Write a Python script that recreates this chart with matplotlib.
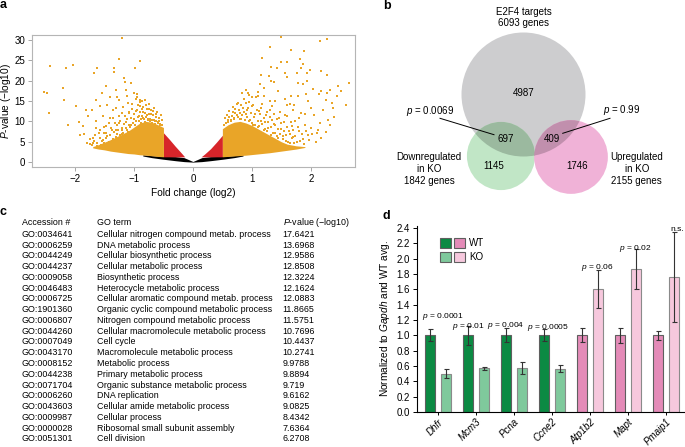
import numpy as np
import matplotlib.pyplot as plt
from matplotlib.patches import Circle, Patch
from matplotlib.legend_handler import HandlerTuple

plt.rcParams['font.family'] = ['Liberation Sans', 'DejaVu Sans']
plt.rcParams['mathtext.fontset'] = 'custom'
plt.rcParams['mathtext.rm'] = 'Liberation Sans'
plt.rcParams['mathtext.it'] = 'Liberation Sans:italic'

# ---------------- panel a : volcano (dense cores as envelopes + sparse points)
black_fc = [-0.85, -0.7, -0.5, -0.3, -0.15, 0.0, 0.15, 0.3, 0.5, 0.7, 0.85]
black_lo = [1.5, 1.1, 0.7, 0.35, 0.12, 0.0, 0.12, 0.35, 0.7, 1.1, 1.5]
black_hi = [1.8, 1.6, 1.4, 1.35, 1.1, 0.15, 1.1, 1.35, 1.4, 1.6, 1.8]

red_l_fc = [-0.5, -0.4, -0.3, -0.2, -0.14]
red_l_hi = [7.2, 5.6, 3.9, 2.3, 1.3]
red_r_fc = [0.14, 0.2, 0.3, 0.4, 0.5]
red_r_hi = [1.3, 2.0, 3.3, 4.9, 6.6]
red_lo = 1.3

core_l_fc = [-1.7, -1.6, -1.5, -1.4, -1.3, -1.2, -1.1, -1.0, -0.9, -0.8, -0.7, -0.6, -0.5]
core_l_lo = [3.5, 3.2, 3.0, 2.7, 2.5, 2.3, 2.1, 2.0, 1.8, 1.7, 1.55, 1.4, 1.3]
core_l_hi = [3.8, 4.3, 4.9, 5.5, 6.2, 6.9, 7.6, 8.6, 9.6, 10.0, 9.8, 9.2, 8.5]
core_r_fc = [0.5, 0.6, 0.7, 0.8, 0.9, 1.0, 1.1, 1.2, 1.3, 1.4, 1.5, 1.6, 1.75, 1.9]
core_r_lo = [1.3, 1.4, 1.5, 1.6, 1.7, 1.85, 2.0, 2.15, 2.3, 2.5, 2.7, 2.9, 3.2, 3.6]
core_r_hi = [8.2, 9.2, 9.8, 10.0, 9.6, 9.0, 8.2, 7.4, 6.6, 5.8, 5.0, 4.4, 4.0, 3.8]

left_fc = [-2.73, -2.43, -2.53, -2.47, -2.44, -2.21, -2.16, -2.18, -2.03, -2.12,
           -1.99, -1.94, -1.92, -1.86, -1.82, -1.67, -1.62, -1.65, -1.58, -1.47,
           -1.45, -1.34, -1.34, -1.26, -1.21, -1.17, -1.15, -1.05, -0.98, -0.89,
           -1.30, -1.28, -1.41, -1.13, -0.90, -1.55, -1.72, -1.78, -1.64, -1.53,
           -1.47, -1.36, -1.69,
           -1.55, -1.50, -1.45, -1.42, -1.38, -1.35, -1.32, -1.30, -1.28, -1.25,
           -1.22, -1.20, -1.18, -1.15, -1.13, -1.10, -1.08, -1.06, -1.04, -1.02,
           -1.00, -0.98, -0.97, -0.95, -0.93, -0.92, -0.90, -0.88, -0.87, -0.85,
           -0.84, -0.82, -0.80, -0.78, -0.77, -0.75, -0.73, -0.71, -0.70, -0.68,
           -0.66, -0.64, -0.62, -0.60, -0.58, -0.56, -1.60, -1.48, -1.40, -1.36,
           -1.25, -1.12, -1.00, -0.95, -1.45, -1.65, -1.70, -1.75, -1.62, -1.10,
           -1.05, -0.99, -0.90, -1.20, -1.30, -1.27]
left_p = [26.0, 23.7, 17.3, 17.0, 12.1, 18.1, 23.2, 15.3, 23.8, 9.0,
          13.7, 9.9, 6.7, 8.8, 12.9, 21.9, 23.2, 15.3, 13.7, 18.6,
          31.3, 23.0, 22.0, 25.3, 30.5, 20.7, 19.6, 19.3, 23.2, 24.7,
          17.8, 16.1, 16.1, 17.8, 15.3, 17.0, 12.9, 11.2, 8.4, 11.2,
          7.1, 5.5, 4.8,
          5.2, 4.6, 6.3, 4.9, 7.8, 5.6, 9.5, 4.4, 6.8, 11.2,
          5.1, 8.3, 13.5, 6.2, 9.9, 4.7, 12.0, 7.4, 14.3, 5.8,
          10.6, 8.1, 15.4, 12.7, 6.9, 11.3, 13.8, 9.6, 15.0, 10.8,
          12.4, 9.9, 14.1, 11.6, 10.3, 13.0, 10.1, 11.9, 9.7, 12.6,
          10.4, 9.4, 11.1, 9.8, 10.2, 9.1, 7.2, 8.9, 10.8, 12.9,
          15.2, 16.3, 17.0, 16.6, 13.9, 10.2, 6.0, 4.5, 3.9, 7.5,
          9.0, 6.5, 7.9, 6.9, 8.0, 4.9]
left_mid = [(-1.72, 4.2), (-1.68, 5.1), (-1.63, 4.7), (-1.58, 6.0), (-1.56, 4.3),
            (-1.52, 5.5), (-1.5, 7.1), (-1.47, 5.9), (-1.44, 4.8), (-1.41, 6.7),
            (-1.39, 8.4), (-1.37, 5.3), (-1.34, 7.3), (-1.31, 6.1), (-1.29, 9.1),
            (-1.27, 7.8), (-1.24, 6.6), (-1.23, 10.1), (-1.21, 8.0), (-1.19, 7.2),
            (-1.17, 9.4), (-1.16, 11.3), (-1.14, 8.3), (-1.12, 10.5), (-1.11, 7.9),
            (-1.09, 12.2), (-1.08, 9.1), (-1.06, 8.6), (-1.05, 10.9), (-1.03, 13.1),
            (-1.01, 9.5), (-1.0, 11.8), (-0.99, 9.0), (-0.97, 12.5), (-0.96, 10.2),
            (-0.94, 14.0), (-0.93, 11.0), (-0.91, 10.1), (-0.9, 12.3), (-0.89, 14.8),
            (-0.88, 10.6), (-0.86, 11.4), (-0.85, 13.5), (-0.83, 10.5), (-0.82, 12.0),
            (-0.81, 15.2), (-0.79, 11.1), (-0.78, 13.0), (-0.76, 10.6), (-0.75, 11.9),
            (-0.74, 14.3), (-0.72, 10.7), (-0.71, 12.9), (-0.69, 10.4), (-0.68, 11.6),
            (-0.66, 13.4), (-0.65, 10.1), (-0.63, 11.8), (-0.62, 10.0), (-0.61, 12.2),
            (-0.59, 9.6), (-0.57, 10.8), (-0.55, 9.3), (-0.54, 11.5), (-0.53, 9.0),
            (-0.52, 10.3), (-1.35, 10.9), (-1.42, 9.6), (-1.5, 8.6), (-1.58, 7.8),
            (-1.66, 6.6), (-1.75, 5.6), (-1.8, 4.7), (-1.85, 6.8), (-1.2, 12.0),
            (-1.1, 14.6), (-0.95, 15.9), (-0.87, 13.0), (-1.3, 13.2), (-1.25, 9.7)]

right_fc = [1.50, 2.15, 2.27, 1.31, 1.66, 1.88, 1.18, 1.81, 1.49, 1.60,
            1.87, 1.32, 1.42, 1.84, 1.99, 2.17, 1.94, 1.15, 1.29, 1.57,
            1.77, 2.27, 1.33, 1.59, 1.93, 1.37, 1.14, 1.78, 1.87, 2.65,
            2.46, 1.21, 2.04, 2.18, 2.52, 0.94, 1.11, 1.45, 1.67, 1.78,
            2.14, 2.28, 2.44, 1.92, 2.36, 2.60, 1.72, 1.95, 1.56, 1.64,
            2.33, 2.46, 2.37, 2.26,
            0.60, 0.62, 0.65, 0.68, 0.70, 0.72, 0.75, 0.77, 0.80, 0.82,
            0.85, 0.87, 0.90, 0.92, 0.95, 0.97, 1.00, 1.02, 1.05, 1.07,
            1.10, 1.12, 1.15, 1.18, 1.20, 1.22, 1.25, 1.28, 1.30, 1.33,
            1.35, 1.38, 1.40, 1.43, 1.45, 1.48, 1.50, 1.53, 1.55, 1.58,
            1.60, 1.63, 1.65, 1.68, 1.70, 1.73, 1.76, 1.80, 1.83, 1.86,
            1.90, 1.95, 2.00, 2.05, 2.10, 2.15, 2.20, 2.30, 0.95, 1.05,
            1.15, 1.25, 1.35, 0.85, 1.10, 0.90, 0.83]
right_p = [30.8, 29.8, 30.1, 28.3, 27.6, 27.2, 25.6, 25.4, 24.5, 24.5,
           24.2, 23.3, 23.2, 23.1, 22.6, 22.4, 21.9, 21.5, 21.2, 21.8,
           21.9, 21.3, 20.0, 20.8, 20.0, 19.6, 19.2, 19.3, 19.2, 19.4,
           18.6, 18.1, 17.9, 17.5, 17.5, 17.0, 16.3, 17.4, 16.2, 16.3,
           16.7, 16.9, 16.2, 16.7, 14.5, 14.1, 14.1, 14.9, 15.5, 14.3,
           17.6, 18.8, 13.3, 15.3,
           9.8, 11.0, 10.4, 12.3, 10.9, 13.1, 11.5, 14.6, 12.0, 10.7,
           13.4, 15.6, 11.8, 12.9, 14.8, 10.3, 13.7, 9.2, 11.9, 15.9,
           8.6, 12.6, 10.1, 14.2, 7.9, 9.9, 12.2, 8.4, 11.0, 6.7,
           13.8, 9.3, 7.2, 10.6, 5.9, 12.4, 8.2, 6.4, 9.9, 5.3,
           11.3, 7.7, 4.6, 8.9, 6.2, 10.2, 4.9, 7.6, 12.1, 5.7,
           9.0, 6.6, 8.3, 11.5, 7.1, 9.6, 12.7, 10.4, 7.9, 6.2,
           5.4, 4.6, 4.1, 8.6, 17.2, 17.8, 16.9]
right_mid = [(0.52, 9.0), (0.54, 10.8), (0.56, 9.6), (0.58, 11.6), (0.6, 10.4),
             (0.62, 12.5), (0.64, 10.0), (0.66, 11.4), (0.68, 13.5), (0.7, 10.6),
             (0.72, 12.0), (0.74, 14.2), (0.76, 11.0), (0.78, 12.8), (0.8, 10.7),
             (0.82, 13.9), (0.84, 11.5), (0.86, 12.4), (0.88, 10.4), (0.9, 14.6),
             (0.92, 11.1), (0.94, 13.2), (0.96, 10.0), (0.98, 12.0), (1.0, 9.6),
             (1.02, 14.0), (1.04, 11.0), (1.06, 9.0), (1.08, 12.9), (1.1, 10.2),
             (1.12, 8.8), (1.14, 11.7), (1.16, 13.3), (1.18, 9.4), (1.2, 10.9),
             (1.22, 8.2), (1.24, 11.6), (1.26, 7.6), (1.28, 9.8), (1.3, 12.8),
             (1.32, 8.6), (1.34, 10.4), (1.36, 7.2), (1.38, 11.9), (1.4, 9.0),
             (1.42, 6.5), (1.44, 8.1), (1.46, 10.9), (1.48, 6.9), (1.5, 9.5),
             (1.52, 5.6), (1.54, 7.6), (1.56, 11.6), (1.58, 6.6), (1.6, 8.7),
             (1.62, 4.9), (1.64, 7.0), (1.66, 9.9), (1.68, 5.8), (1.7, 7.9),
             (1.72, 4.6), (1.74, 6.3), (1.78, 8.5), (1.82, 5.2), (1.85, 6.8),
             (1.88, 4.5), (1.92, 7.6), (1.97, 5.4), (2.02, 6.9), (2.08, 5.0),
             (2.12, 8.0), (2.18, 6.0), (2.25, 7.4), (2.32, 9.1), (2.4, 11.0),
             (1.8, 10.8), (1.9, 11.9), (2.0, 13.2), (1.7, 12.7), (1.6, 13.9),
             (1.3, 15.0), (1.2, 16.2), (1.0, 16.0), (0.95, 16.4), (1.4, 14.9)]

# ---------------- panel b : Venn
e2f4_n, down_n, up_n = 6093, 1842, 2155
only_e2f4, down_only, up_only = 4987, 1145, 1746
down_shared, up_shared = 697, 409
p_down, p_up = '0.0069', '0.99'

# ---------------- panel c : GO table
go_acc = ['GO:0034641', 'GO:0006259', 'GO:0044249', 'GO:0044237', 'GO:0009058',
          'GO:0046483', 'GO:0006725', 'GO:1901360', 'GO:0006807', 'GO:0044260',
          'GO:0007049', 'GO:0043170', 'GO:0008152', 'GO:0044238', 'GO:0071704',
          'GO:0006260', 'GO:0043603', 'GO:0009987', 'GO:0000028', 'GO:0051301']
go_term = ['Cellular nitrogen compound metab. process', 'DNA metabolic process',
           'Cellular biosynthetic process', 'Cellular metabolic process',
           'Biosynthetic process', 'Heterocycle metabolic process',
           'Cellular aromatic compound metab. process',
           'Organic cyclic compound metabolic process',
           'Nitrogen compound metabolic process',
           'Cellular macromolecule metabolic process', 'Cell cycle',
           'Macromolecule metabolic process', 'Metabolic process',
           'Primary metabolic process', 'Organic substance metabolic process',
           'DNA replication', 'Cellular amide metabolic process',
           'Cellular process', 'Ribosomal small subunit assembly', 'Cell division']
go_p = ['17.6421', '13.6968', '12.9586', '12.8508', '12.3224', '12.1624', '12.0883',
        '11.8665', '11.5751', '10.7696', '10.4437', '10.2741', '9.9788', '9.8894',
        '9.719', '9.6162', '9.0825', '8.4342', '7.6364', '6.2708']

# ---------------- panel d : qPCR
genes = ['Dhfr', 'Mcm3', 'Pcna', 'Ccne2', 'Atp1b2', 'Mapt', 'Pmaip1']
wt_mean = [1.0, 1.0, 1.0, 1.0, 1.0, 1.0, 1.0]
wt_err = [0.08, 0.12, 0.09, 0.08, 0.09, 0.10, 0.06]
ko_mean = [0.50, 0.57, 0.575, 0.565, 1.60, 1.86, 1.765]
ko_err = [0.055, 0.02, 0.075, 0.045, 0.25, 0.26, 0.585]
p_text = ['0.0001', '0.01', '0.004', '0.0005', '0.06', '0.02', 'n.s.']
p_y = [1.25, 1.12, 1.13, 1.10, 1.89, 2.13, 2.38]
p_dx = [0.13, -0.21, -0.21, -0.1, 0.2, 0.2, 0.3]

W, H = 685, 447
fig = plt.figure(figsize=(6.85, 4.47), dpi=100)

# overlay axes in pixel units for panel letters, Venn and table
ov = fig.add_axes([0, 0, 1, 1])
ov.set_xlim(0, W)
ov.set_ylim(H, 0)
ov.axis('off')
for lab, (x, y) in zip('abcd', [(0, 5), (383, 6), (0, 212), (383, 216)]):
    ov.text(x, y, lab, fontsize=9, fontweight='bold', va='center', ha='left')

# ---- a
ORANGE, RED = '#e9a528', '#d7252a'
ax = fig.add_axes([32 / W, 1 - 167 / H, 323 / W, 132 / H])
ax.fill_between(black_fc, black_lo, black_hi, color='black', lw=0)
ax.fill_between(red_l_fc, red_lo, red_l_hi, color=RED, lw=0)
ax.fill_between(red_r_fc, red_lo, red_r_hi, color=RED, lw=0)
ax.fill_between(core_l_fc, core_l_lo, core_l_hi, color=ORANGE, lw=0)
ax.fill_between(core_r_fc, core_r_lo, core_r_hi, color=ORANGE, lw=0)
mid_fc = [m[0] for m in left_mid + right_mid]
mid_p = [m[1] for m in left_mid + right_mid]
ax.scatter(left_fc + right_fc + mid_fc, left_p + right_p + mid_p, s=3, marker='s',
           color=ORANGE, lw=0)
ax.set_xlim(-2.73, 2.75)
ax.set_ylim(-1.2, 31.2)
ax.set_xticks([-2, -1, 0, 1, 2])
ax.set_yticks(range(0, 31, 5))
for s in ax.spines.values():
    s.set_color('#b5b5b5')
    s.set_linewidth(0.8)
ax.tick_params(length=3, width=0.6, color='#999999', labelsize=7, pad=2)
ax.set_xlabel('Fold change (log2)', fontsize=7.3, labelpad=3)
ax.set_ylabel(r'$\it{P}$-value (−log10)', fontsize=7.3, labelpad=1)

# ---- b
R0 = 62
r_e = R0
r_d = R0 * np.sqrt(down_n / e2f4_n)
r_u = R0 * np.sqrt(up_n / e2f4_n)
c_e, c_d, c_u = (523.5, 94.5), (501, 156), (571, 157)
gray_c = Circle(c_e, r_e, fc='#cdcdcf', ec='none')
ov.add_patch(gray_c)
ov.add_patch(Circle(c_d, r_d, fc='#c1e6c6', ec='none'))
ov.add_patch(Circle(c_u, r_u, fc='#f0b2d7', ec='none'))
g2 = Circle(c_d, r_d, fc='#9bb99f', ec='none')
ov.add_patch(g2)
g2.set_clip_path(gray_c)
p2 = Circle(c_u, r_u, fc='#c18fad', ec='none')
ov.add_patch(p2)
p2.set_clip_path(gray_c)

fs_b = 7
ov.text(523.5, 17.5, 'E2F4 targets\n%d genes' % e2f4_n, ha='center', va='center',
        fontsize=fs_b, linespacing=1.2)
ov.text(523.5, 92.5, str(only_e2f4), ha='center', va='center', fontsize=fs_b)
ov.text(505.7, 139, str(down_shared), ha='center', va='center', fontsize=fs_b)
ov.text(551.7, 139, str(up_shared), ha='center', va='center', fontsize=fs_b)
ov.text(494, 166, str(down_only), ha='center', va='center', fontsize=fs_b)
ov.text(577.3, 166, str(up_only), ha='center', va='center', fontsize=fs_b)
ov.text(429.3, 169, 'Downregulated\nin KO\n%d genes' % down_n, ha='center',
        va='center', fontsize=fs_b, linespacing=1.2)
ov.text(636.7, 169, 'Upregulated\nin KO\n%d genes' % up_n, ha='center',
        va='center', fontsize=fs_b, linespacing=1.2)
ov.text(430, 111, r'$\it{p}$ = ' + p_down, ha='center', va='center', fontsize=fs_b)
ov.text(621.7, 110, r'$\it{p}$ = ' + p_up, ha='center', va='center', fontsize=fs_b)
ov.plot([440, 494], [118.3, 134.7], color='black', lw=0.7)
ov.plot([610, 562.7], [118.3, 133.3], color='black', lw=0.7)

# ---- c
fs_c = 6.4
col_x = [21.7, 96.7, 282.7]
ov.text(col_x[0], 222.7, 'Accession #', fontsize=fs_c, va='center')
ov.text(col_x[1], 222.7, 'GO term', fontsize=fs_c, va='center')
ov.text(col_x[2], 222.7, r'$\it{P}$-value (−log10)', fontsize=fs_c, va='center')
row_y = 234.3
for a_, t_, p_ in zip(go_acc, go_term, go_p):
    ov.text(col_x[0], row_y, a_, fontsize=fs_c, va='center')
    ov.text(col_x[1], row_y, t_, fontsize=fs_c, va='center')
    ov.text(col_x[2], row_y, p_, fontsize=fs_c, va='center')
    row_y += 10.77

# ---- d
GW, GK = '#0b8a43', '#7fc99c'
PW, PK = '#e48bb8', '#f6c8dd'
wt_col = [GW] * 4 + [PW] * 3
ko_col = [GK] * 4 + [PK] * 3
axd = fig.add_axes([417 / W, 1 - 412 / H, 268 / W, 186 / H])
x = np.arange(len(genes))
bw, off = 0.27, 0.21
axd.bar(x - off, wt_mean, bw, color=wt_col, edgecolor='#5f5f5f', lw=0.8,
        yerr=wt_err, error_kw=dict(ecolor='#333333', elinewidth=0.8, capsize=1.8, capthick=0.8))
axd.bar(x + off, ko_mean, bw, color=ko_col, edgecolor='#8a8a8a', lw=0.8,
        yerr=ko_err, error_kw=dict(ecolor='#333333', elinewidth=0.8, capsize=1.8, capthick=0.8))
for i, (t, yy, dx) in enumerate(zip(p_text, p_y, p_dx)):
    s = t if t == 'n.s.' else r'$\it{p}$ = ' + t
    axd.text(i + dx, yy, s, ha='center', va='center', fontsize=6)
axd.set_xlim(-0.55, 6.5)
axd.set_ylim(0, 2.426)
axd.set_yticks(np.arange(0, 2.41, 0.2))
axd.set_yticklabels(['%.1f' % v for v in np.arange(0, 2.41, 0.2)])
axd.set_xticks(x)
axd.set_xticklabels(genes, rotation=45, ha='right', rotation_mode='anchor',
                    fontstyle='italic')
axd.spines['top'].set_visible(False)
axd.spines['right'].set_visible(False)
axd.tick_params(length=3, width=0.7, labelsize=7, pad=2)
axd.tick_params(axis='x', length=2.5, pad=1)
axd.set_ylabel(r'Normalized to $\it{Gapdh}$ and WT avg.', fontsize=7.3, labelpad=3)
h_wt = (Patch(fc=GW, ec='#5f5f5f', lw=0.8), Patch(fc=PW, ec='#5f5f5f', lw=0.8))
h_ko = (Patch(fc=GK, ec='#5f5f5f', lw=0.8), Patch(fc=PK, ec='#5f5f5f', lw=0.8))
axd.legend([h_wt, h_ko], ['WT', 'KO'], handler_map={tuple: HandlerTuple(ndivide=None, pad=0.3)},
           loc='upper left', bbox_to_anchor=(0.06, 0.97), frameon=False, fontsize=7,
           handlelength=2.6, handleheight=1.1, handletextpad=0.4, labelspacing=0.4,
           borderpad=0.2)

fig.savefig('out.png', dpi=100)
